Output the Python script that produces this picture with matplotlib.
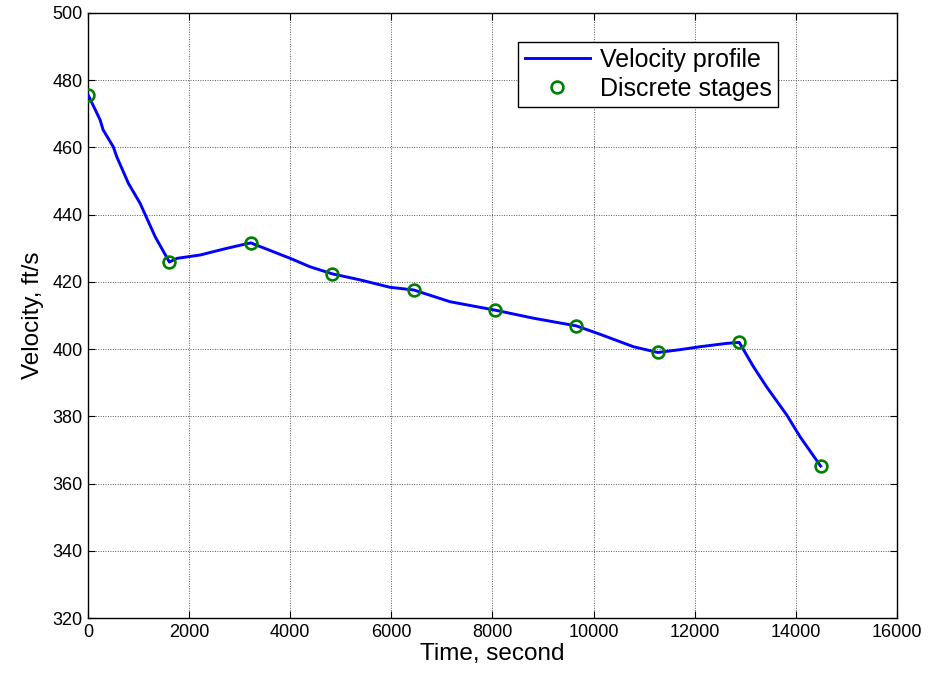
import matplotlib.pyplot as plt

plt.rcParams['font.family'] = ['Liberation Sans', 'DejaVu Sans']

# velocity profile sampled along the trajectory (time in s, velocity in ft/s)
time_profile = [0, 240, 300, 500, 570, 800, 1030, 1330, 1610,
                1760, 2220, 2750, 3040, 3220,
                4000, 4390, 4830,
                5380, 5970, 6440,
                7160, 8050,
                8810, 9660,
                10130, 10790, 11270,
                11740, 12100, 12630, 12880,
                13160, 13420, 13820, 14080, 14490]
velocity_profile = [475.7, 468.2, 465.2, 460.2, 457.2, 449.3, 443.4, 433.4, 425.9,
                    427.0, 428.0, 430.0, 431.0, 431.6,
                    427.0, 424.5, 422.4,
                    420.6, 418.4, 417.6,
                    414.1, 411.6,
                    409.2, 406.9,
                    404.4, 400.7, 399.0,
                    399.9, 400.7, 401.7, 402.0,
                    394.8, 388.8, 380.4, 374.0, 365.2]

# discrete stage points
stage_time = [0, 1610, 3220, 4830, 6440, 8050, 9660, 11270, 12880, 14490]
stage_velocity = [475.7, 425.9, 431.6, 422.4, 417.6, 411.6, 406.9, 399.0, 402.0, 365.2]

x_ticks = [0, 2000, 4000, 6000, 8000, 10000, 12000, 14000, 16000]
y_ticks = [320, 340, 360, 380, 400, 420, 440, 460, 480, 500]

fig = plt.figure(figsize=(9.3, 6.79), dpi=100)
ax = fig.add_axes([0.0946, 0.0898, 0.8699, 0.8911])

ax.plot(time_profile, velocity_profile, color='#0000ff', lw=2.1,
        label='Velocity profile', zorder=3)
ax.plot(stage_time, stage_velocity, linestyle='none', marker='o',
        markersize=8.5, markerfacecolor='none', markeredgecolor='#008000',
        markeredgewidth=1.9, label='Discrete stages', zorder=4)

ax.set_xlim(0, 16000)
ax.set_ylim(320, 500)
ax.set_xticks(x_ticks)
ax.set_yticks(y_ticks)
ax.tick_params(direction='in', length=5, width=0.8, top=True, right=True,
               labelsize=13, colors='black', pad=4)
for s in ax.spines.values():
    s.set_linewidth(1.0)
    s.set_color('black')

ax.grid(True, color='0.35', linestyle=(0, (1, 1.5)), linewidth=0.7)
ax.set_axisbelow(True)

ax.set_xlabel('Time, second', fontsize=17.5, labelpad=2)
ax.set_ylabel('Velocity, ft/s', fontsize=17.5, labelpad=6)

leg = ax.legend(loc='upper right', bbox_to_anchor=(0.8525, 0.9526),
                borderaxespad=0, fontsize=18, frameon=True, fancybox=False,
                framealpha=1, edgecolor='black', handlelength=2.6,
                handletextpad=0.4, labelspacing=0.2, borderpad=0.25)
leg.get_frame().set_linewidth(1.0)

fig.savefig('out.png', dpi=100)
